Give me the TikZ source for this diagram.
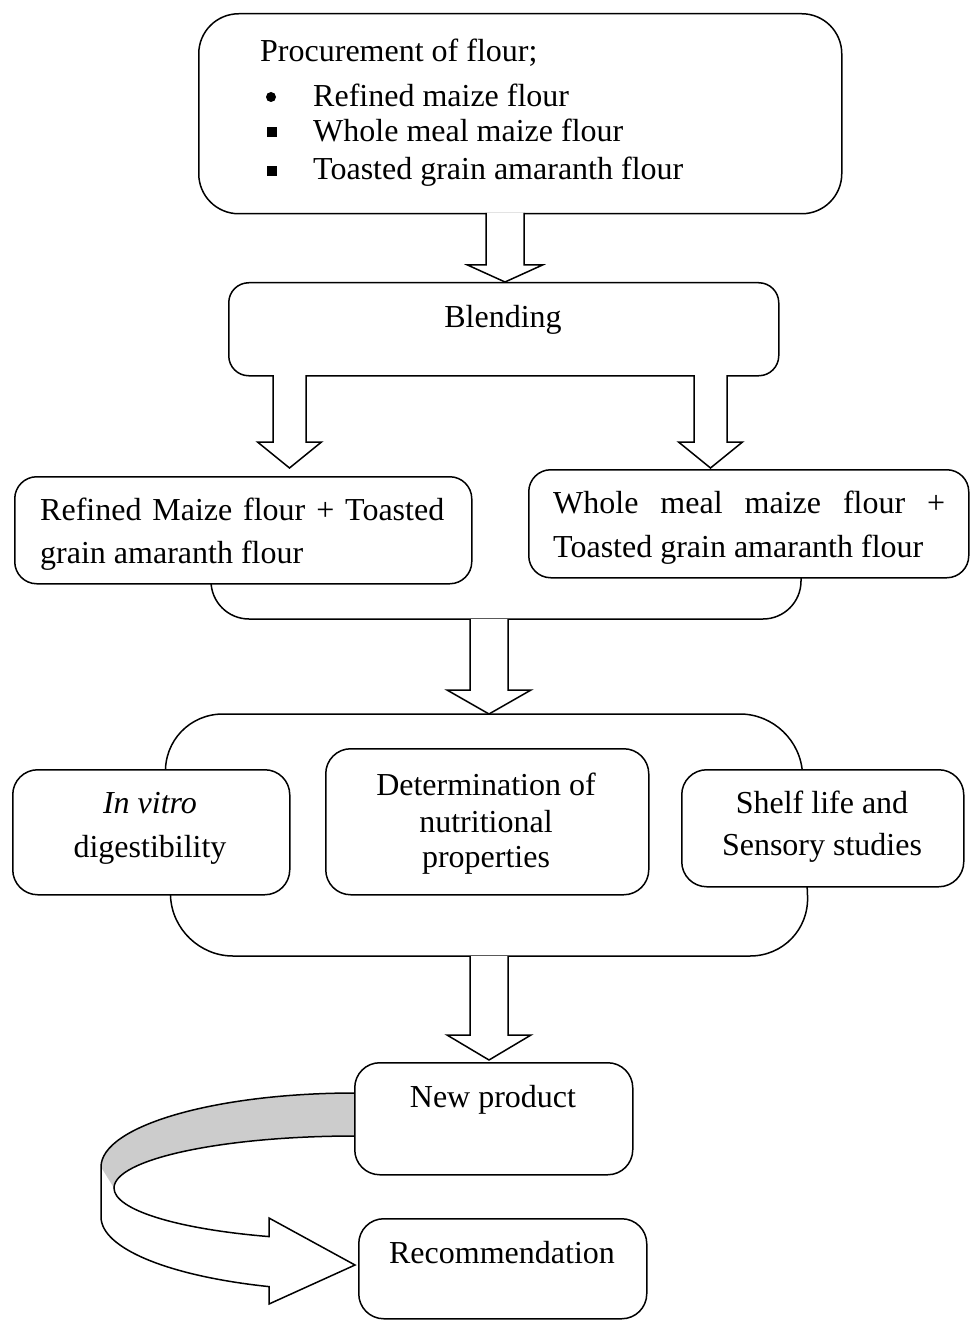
\documentclass[tikz,border=0pt]{standalone}
\usepackage{fontspec}
\setmainfont{Liberation Serif}
\newcommand\bigtxt{\fontsize{32}{43}\selectfont}
\newcommand\toptxt{\fontsize{32}{37}\selectfont}
\newcommand\blockarrow[6]{%
  \draw[barrow] ({#1-#5},#2) -- ({#1-#5},#3) -- ({#1-#6},#3) -- (#1,#4) -- ({#1+#6},#3) -- ({#1+#5},#3) -- ({#1+#5},#2);}
\begin{document}
\begin{tikzpicture}[x=1pt,y=-1pt,
  ln/.style={line width=1.5pt, line join=round},
  rbox/.style={draw, ln, fill=white, rounded corners=#1, inner sep=0pt, anchor=north west},
  rbox/.default=22pt,
  barrow/.style={draw, line width=1.5pt, fill=white, line join=miter},
  txt/.style={inner sep=0pt, font=\bigtxt},
  toptext/.style={inner sep=0pt, font=\toptxt, anchor=base west}]
\useasboundingbox (0,0) rectangle (969,1321);

% background containers
\draw[ln, rounded corners=38pt] (211,560) -- (211,619) -- (801,619) -- (801,560);
\draw[ln, rounded corners=60pt] (480,714) -- (800,714) -- (810,956) -- (173,956) -- (163,714) -- cycle;

% ribbon arrow
\fill[gray!40] (355,1093) arc[start angle=270, end angle=180, x radius=254, y radius=74]
  -- (114,1188) arc[start angle=180, end angle=270, x radius=241, y radius=52] -- cycle;
\draw[ln, line join=miter] (355,1136) arc[start angle=270, end angle=110.9, x radius=241, y radius=52]
  -- (269,1218) -- (355,1265) -- (269,1304) -- (269,1286.6)
  arc[start angle=109.8, end angle=180, x radius=254, y radius=74]
  -- (101,1167) arc[start angle=180, end angle=270, x radius=254, y radius=74];

% boxes
\node[rbox=40pt, minimum width=643pt, minimum height=200pt] (procure) at (198,13) {};
\node[rbox=20pt, minimum width=550pt, minimum height=93pt] (blend) at (228,282) {};
\node[rbox, minimum width=457pt, minimum height=107pt] (mixA) at (14,476) {};
\node[rbox, minimum width=440pt, minimum height=108pt] (mixB) at (528,469) {};
\node[rbox=25pt, minimum width=277pt, minimum height=125pt] (vitro) at (12,769) {};
\node[rbox=25pt, minimum width=323pt, minimum height=146pt] (determ) at (325,748) {};
\node[rbox=25pt, minimum width=282pt, minimum height=117pt] (shelf) at (681,769) {};
\node[rbox=25pt, minimum width=278pt, minimum height=112pt] (newp) at (354,1062) {};
\node[rbox=25pt, minimum width=288pt, minimum height=100pt] (recom) at (358,1218) {};

% block arrows
\blockarrow{505}{213}{265}{282}{19}{37.5}
\blockarrow{289.5}{375}{442}{468}{16.5}{32}
\blockarrow{710.5}{375}{442}{468}{16.5}{32}
\blockarrow{489}{619}{690}{714}{19}{42}
\blockarrow{489}{956}{1035}{1060}{19}{42}

% top box text
\node[toptext] (p0) at (260,62) {Procurement of flour;};
\node[toptext] (p1) at (313,107) {Refined maize flour};
\node[toptext] (p2) at (313,142) {Whole meal maize flour};
\node[toptext] (p3) at (313,180) {Toasted grain amaranth flour};
\fill (271,97) circle (5);
\fill (267,127) rectangle (277,137);
\fill (267,166) rectangle (277,176);

\node[txt, anchor=base] (blendt) at (503,327) {Blending};

\node[txt, anchor=base west] (mixA1) at (40,520) {\makebox[404pt][s]{Refined Maize flour + Toasted}};
\node[txt, anchor=base west] (mixA2) at (40,563) {grain amaranth flour};
\node[txt, anchor=base west] (mixB1) at (553,513) {\makebox[392pt][s]{Whole meal maize flour +}};
\node[txt, anchor=base west] (mixB2) at (553,557) {Toasted grain amaranth flour};

\node[txt, anchor=base] (vitro1) at (150,813) {\textit{In vitro}};
\node[txt, anchor=base] (vitro2) at (150,857) {digestibility};
\node[txt, anchor=base] (det1) at (486,795) {Determination of};
\node[txt, anchor=base] (det2) at (486,832) {nutritional};
\node[txt, anchor=base] (det3) at (486,867) {properties};
\node[txt, anchor=base] (shelf1) at (822,813) {Shelf life and};
\node[txt, anchor=base] (shelf2) at (822,855) {Sensory studies};

\node[txt, anchor=base] (newpt) at (493,1107) {New product};
\node[txt, anchor=base] (recomt) at (502,1263) {Recommendation};
\end{tikzpicture}
\end{document}
